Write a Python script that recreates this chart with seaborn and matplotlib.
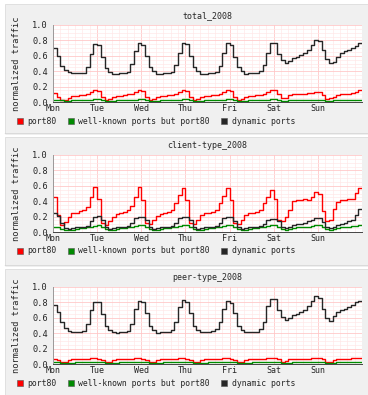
"""
Weekly normalized traffic per port class (rrdtool-style panels).
"""

import matplotlib
matplotlib.use("Agg")
import matplotlib.pyplot as plt
import matplotlib.patches as mpatches
from matplotlib.ticker import MultipleLocator
from matplotlib.transforms import ScaledTranslation
import numpy as np
import pandas as pd
import seaborn as sns

DAYS = ["Mon", "Tue", "Wed", "Thu", "Fri", "Sat", "Sun"]
SERIES = ["port80", "well-known ports but port80", "dynamic ports"]
COLORS = {"port80": "#ff0000",
          "well-known ports but port80": "#008a00",
          "dynamic ports": "#262626"}
TITLES = ["total_2008", "client-type_2008", "peer-type_2008"]

# 2-hour samples, one row per day (Mon..Sun)
TOTAL_PORT80 = [
    0.12, 0.07, 0.03, 0.03, 0.05, 0.08, 0.08, 0.09, 0.09, 0.11, 0.13, 0.15,
    0.14, 0.07, 0.03, 0.04, 0.06, 0.08, 0.08, 0.09, 0.10, 0.11, 0.13, 0.15,
    0.14, 0.07, 0.03, 0.04, 0.06, 0.08, 0.08, 0.09, 0.09, 0.11, 0.13, 0.16,
    0.14, 0.07, 0.03, 0.04, 0.06, 0.08, 0.08, 0.09, 0.09, 0.11, 0.13, 0.15,
    0.14, 0.07, 0.03, 0.04, 0.06, 0.08, 0.08, 0.09, 0.09, 0.11, 0.13, 0.15,
    0.15, 0.10, 0.05, 0.05, 0.09, 0.10, 0.11, 0.11, 0.11, 0.12, 0.12, 0.13,
    0.13, 0.09, 0.04, 0.05, 0.07, 0.09, 0.10, 0.11, 0.11, 0.12, 0.13, 0.15,
]
TOTAL_WELLKNOWN = [
    0.030, 0.030, 0.020, 0.010, 0.010, 0.020, 0.020, 0.020, 0.020, 0.025, 0.030, 0.035,
    0.035, 0.025, 0.015, 0.010, 0.015, 0.020, 0.020, 0.020, 0.025, 0.025, 0.030, 0.035,
    0.035, 0.025, 0.015, 0.010, 0.015, 0.020, 0.020, 0.020, 0.025, 0.025, 0.030, 0.035,
    0.035, 0.025, 0.015, 0.010, 0.015, 0.020, 0.020, 0.020, 0.025, 0.025, 0.030, 0.035,
    0.035, 0.025, 0.015, 0.010, 0.015, 0.020, 0.020, 0.020, 0.025, 0.025, 0.030, 0.035,
    0.035, 0.025, 0.015, 0.015, 0.020, 0.020, 0.025, 0.025, 0.025, 0.030, 0.030, 0.030,
    0.030, 0.025, 0.015, 0.015, 0.020, 0.020, 0.025, 0.025, 0.025, 0.030, 0.030, 0.030,
]
TOTAL_DYNAMIC = [
    0.70, 0.60, 0.47, 0.42, 0.39, 0.38, 0.38, 0.38, 0.38, 0.45, 0.62, 0.75,
    0.74, 0.58, 0.44, 0.39, 0.36, 0.37, 0.38, 0.38, 0.39, 0.50, 0.66, 0.76,
    0.74, 0.60, 0.46, 0.40, 0.36, 0.37, 0.38, 0.38, 0.39, 0.48, 0.64, 0.76,
    0.75, 0.60, 0.46, 0.40, 0.37, 0.37, 0.38, 0.38, 0.39, 0.47, 0.64, 0.76,
    0.74, 0.58, 0.45, 0.40, 0.37, 0.38, 0.38, 0.38, 0.40, 0.48, 0.63, 0.76,
    0.76, 0.62, 0.55, 0.51, 0.53, 0.57, 0.59, 0.61, 0.63, 0.67, 0.74, 0.80,
    0.79, 0.68, 0.56, 0.51, 0.52, 0.59, 0.63, 0.66, 0.68, 0.70, 0.73, 0.76,
]

CLIENT_PORT80 = [
    0.46, 0.22, 0.09, 0.13, 0.20, 0.25, 0.25, 0.27, 0.29, 0.33, 0.46, 0.58,
    0.43, 0.12, 0.09, 0.14, 0.20, 0.24, 0.25, 0.26, 0.28, 0.34, 0.46, 0.58,
    0.42, 0.12, 0.10, 0.15, 0.21, 0.24, 0.25, 0.26, 0.28, 0.38, 0.48, 0.57,
    0.42, 0.12, 0.10, 0.15, 0.22, 0.25, 0.25, 0.26, 0.29, 0.38, 0.47, 0.57,
    0.42, 0.12, 0.10, 0.15, 0.22, 0.25, 0.25, 0.26, 0.29, 0.38, 0.46, 0.55,
    0.43, 0.15, 0.14, 0.20, 0.28, 0.40, 0.41, 0.42, 0.43, 0.42, 0.46, 0.52,
    0.50, 0.27, 0.14, 0.16, 0.30, 0.39, 0.41, 0.42, 0.43, 0.43, 0.51, 0.57,
]
CLIENT_WELLKNOWN = [
    0.07, 0.07, 0.04, 0.02, 0.02, 0.03, 0.04, 0.05, 0.05, 0.06, 0.07, 0.08,
    0.09, 0.07, 0.04, 0.03, 0.03, 0.04, 0.05, 0.05, 0.06, 0.07, 0.08, 0.09,
    0.09, 0.07, 0.04, 0.03, 0.03, 0.04, 0.05, 0.05, 0.06, 0.07, 0.08, 0.09,
    0.09, 0.07, 0.04, 0.03, 0.03, 0.04, 0.05, 0.05, 0.06, 0.07, 0.08, 0.09,
    0.09, 0.07, 0.04, 0.03, 0.03, 0.04, 0.05, 0.05, 0.06, 0.07, 0.08, 0.09,
    0.09, 0.07, 0.04, 0.03, 0.04, 0.05, 0.06, 0.06, 0.07, 0.07, 0.08, 0.09,
    0.09, 0.07, 0.04, 0.03, 0.04, 0.05, 0.06, 0.07, 0.07, 0.08, 0.08, 0.09,
]
CLIENT_DYNAMIC = [
    0.25, 0.21, 0.12, 0.05, 0.04, 0.05, 0.06, 0.06, 0.07, 0.08, 0.14, 0.20,
    0.21, 0.16, 0.07, 0.04, 0.05, 0.06, 0.06, 0.07, 0.08, 0.12, 0.18, 0.20,
    0.20, 0.15, 0.06, 0.04, 0.05, 0.06, 0.06, 0.07, 0.08, 0.12, 0.18, 0.20,
    0.20, 0.15, 0.06, 0.04, 0.05, 0.06, 0.06, 0.07, 0.08, 0.12, 0.18, 0.20,
    0.19, 0.14, 0.06, 0.04, 0.05, 0.06, 0.06, 0.07, 0.08, 0.11, 0.15, 0.17,
    0.17, 0.14, 0.07, 0.05, 0.07, 0.09, 0.10, 0.11, 0.12, 0.14, 0.16, 0.18,
    0.18, 0.13, 0.06, 0.05, 0.07, 0.09, 0.11, 0.12, 0.14, 0.16, 0.22, 0.30,
]

PEER_PORT80 = [
    0.07, 0.05, 0.03, 0.03, 0.05, 0.06, 0.06, 0.06, 0.07, 0.07, 0.08, 0.08,
    0.07, 0.05, 0.03, 0.03, 0.05, 0.06, 0.06, 0.06, 0.07, 0.07, 0.08, 0.08,
    0.07, 0.05, 0.03, 0.03, 0.05, 0.06, 0.06, 0.06, 0.07, 0.07, 0.08, 0.08,
    0.07, 0.05, 0.03, 0.03, 0.05, 0.06, 0.06, 0.06, 0.07, 0.07, 0.08, 0.08,
    0.07, 0.05, 0.03, 0.03, 0.05, 0.06, 0.06, 0.06, 0.07, 0.07, 0.08, 0.08,
    0.08, 0.06, 0.03, 0.04, 0.06, 0.07, 0.07, 0.07, 0.07, 0.07, 0.08, 0.08,
    0.08, 0.06, 0.03, 0.03, 0.05, 0.06, 0.07, 0.07, 0.07, 0.08, 0.08, 0.08,
]
PEER_WELLKNOWN = [
    0.020, 0.020, 0.010, 0.010, 0.010, 0.015, 0.020, 0.020, 0.020, 0.020, 0.025, 0.025,
    0.025, 0.020, 0.010, 0.010, 0.010, 0.015, 0.020, 0.020, 0.020, 0.020, 0.025, 0.025,
    0.025, 0.020, 0.010, 0.010, 0.010, 0.015, 0.020, 0.020, 0.020, 0.020, 0.025, 0.025,
    0.025, 0.020, 0.010, 0.010, 0.010, 0.015, 0.020, 0.020, 0.020, 0.020, 0.025, 0.025,
    0.025, 0.020, 0.010, 0.010, 0.010, 0.015, 0.020, 0.020, 0.020, 0.020, 0.025, 0.025,
    0.025, 0.020, 0.010, 0.010, 0.015, 0.020, 0.020, 0.020, 0.020, 0.020, 0.025, 0.025,
    0.025, 0.020, 0.010, 0.010, 0.015, 0.020, 0.020, 0.020, 0.020, 0.020, 0.020, 0.020,
]
PEER_DYNAMIC = [
    0.77, 0.68, 0.55, 0.47, 0.43, 0.42, 0.42, 0.42, 0.43, 0.52, 0.70, 0.81,
    0.80, 0.65, 0.50, 0.44, 0.41, 0.40, 0.41, 0.42, 0.43, 0.52, 0.72, 0.82,
    0.80, 0.66, 0.50, 0.44, 0.40, 0.41, 0.42, 0.42, 0.44, 0.55, 0.74, 0.83,
    0.80, 0.66, 0.50, 0.44, 0.41, 0.41, 0.42, 0.43, 0.45, 0.55, 0.72, 0.82,
    0.79, 0.66, 0.50, 0.44, 0.41, 0.41, 0.42, 0.42, 0.45, 0.55, 0.75, 0.85,
    0.84, 0.70, 0.61, 0.57, 0.60, 0.63, 0.65, 0.67, 0.70, 0.75, 0.82, 0.88,
    0.86, 0.72, 0.60, 0.56, 0.62, 0.67, 0.70, 0.72, 0.74, 0.77, 0.80, 0.82,
]

PANELS = [
    (TOTAL_PORT80, TOTAL_WELLKNOWN, TOTAL_DYNAMIC),
    (CLIENT_PORT80, CLIENT_WELLKNOWN, CLIENT_DYNAMIC),
    (PEER_PORT80, PEER_WELLKNOWN, PEER_DYNAMIC),
]

W, H = 368, 395
FONT = ["DejaVu Sans Mono"]


def to_frame(values_by_series) -> pd.DataFrame:
    frames = []
    for name, vals in zip(SERIES, values_by_series):
        vals = list(vals) + [vals[-1]]          # close the last step
        hours = np.arange(len(vals)) * 2
        frames.append(pd.DataFrame({"hour": hours, "value": vals, "series": name}))
    return pd.concat(frames, ignore_index=True)


def draw_panel(fig, ax, title, df, legend_y_px):
    sns.lineplot(data=df, x="hour", y="value", hue="series", hue_order=SERIES,
                 palette=COLORS, drawstyle="steps-post", estimator=None,
                 linewidth=1.0, legend=False, ax=ax)

    ax.set_facecolor("white")
    ax.set_xlim(0, 168)
    ax.set_ylim(0, 1.0)
    ax.xaxis.set_major_locator(MultipleLocator(24))
    ax.xaxis.set_minor_locator(MultipleLocator(4))
    ax.yaxis.set_major_locator(MultipleLocator(0.2))
    ax.yaxis.set_minor_locator(MultipleLocator(0.05))
    ax.grid(which="minor", color="#ffe6e6", linewidth=0.45)
    ax.grid(which="major", color="#ffc4c4", linewidth=0.55)
    ax.set_axisbelow(True)

    ax.set_xticks(np.arange(0, 168, 24))
    ax.set_xticklabels(DAYS, family=FONT, fontsize=6)
    offset = ScaledTranslation(4 / 100, 0, fig.dpi_scale_trans)
    for lbl in ax.get_xticklabels():
        lbl.set_transform(lbl.get_transform() + offset)
    ax.set_yticks(np.arange(0, 1.01, 0.2))
    ax.set_yticklabels([f"{v:.1f}" for v in np.arange(0, 1.01, 0.2)], family=FONT, fontsize=6.2)
    ax.tick_params(which="both", length=0, pad=3.5)
    ax.tick_params(axis="x", pad=1.5)

    ax.set_xlabel("")
    ax.set_ylabel("normalized traffic", family=FONT, fontsize=6.2, labelpad=8)
    ax.set_title(title, family=FONT, fontsize=6, pad=5)

    for side in ["top", "right"]:
        ax.spines[side].set_visible(False)
    ax.spines["left"].set_color("#9a9a9a")
    ax.spines["bottom"].set_color("#444444")
    ax.spines["left"].set_linewidth(0.7)
    ax.spines["bottom"].set_linewidth(0.7)

    handles = [mpatches.Patch(facecolor=COLORS[s], edgecolor="#555555", linewidth=0.4, label=s)
               for s in SERIES]
    ax.legend(handles=handles, loc="center left", ncol=3,
              bbox_to_anchor=(17 / W, 1 - legend_y_px / H), bbox_transform=fig.transFigure,
              frameon=False, prop={"family": FONT, "size": 5.9},
              handlelength=0.75, handleheight=0.75, handletextpad=0.5,
              columnspacing=1.4, borderpad=0, borderaxespad=0)


def main() -> None:
    sns.set_style("white")
    fig = plt.figure(figsize=(W / 100, H / 100), dpi=100)
    fig.patch.set_facecolor("white")

    panel_boxes = [(4, 133), (137, 265), (269, 397)]
    plot_tops = [25, 155, 287]
    legend_ys = [121, 251, 383]

    for (top, bottom) in panel_boxes:
        fig.patches.append(mpatches.Rectangle(
            (5 / W, 1 - bottom / H), (W - 5) / W, (bottom - top) / H,
            transform=fig.transFigure, facecolor="#f0f0f0",
            edgecolor="#dcdcdc", linewidth=0.6, zorder=-10))
        fig.lines.append(plt.Line2D([5 / W, 1], [1 - bottom / H] * 2,
                                    transform=fig.transFigure, color="#b2b2b2",
                                    linewidth=1.0, zorder=-10))

    for title, values, top, ly in zip(TITLES, PANELS, plot_tops, legend_ys):
        ax = fig.add_axes([53 / W, 1 - (top + 77) / H, 309 / W, 77 / H])
        draw_panel(fig, ax, title, to_frame(values), ly)

    fig.savefig("out.png", dpi=100)
    plt.close(fig)


if __name__ == "__main__":
    main()
